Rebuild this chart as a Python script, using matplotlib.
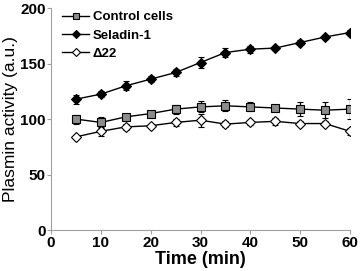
import numpy as np
import matplotlib
matplotlib.use("Agg")
import matplotlib.pyplot as plt

plt.rcParams["font.family"] = ["Liberation Sans", "DejaVu Sans"]
plt.rcParams["font.weight"] = "bold"

time = [5, 10, 15, 20, 25, 30, 35, 40, 45, 50, 55, 60]
control = [100, 97, 102, 105, 109, 111, 112, 111, 110, 109, 108, 109]
control_err = [4, 5, 2, 2, 4, 5, 5, 4, 3, 6, 7, 9]
seladin = [118, 122.5, 130, 136, 142, 151, 160, 163, 164, 169, 174, 178]
seladin_err = [4, 3, 4, 3, 3, 5, 4, 3, 2, 2, 2, 2]
delta22 = [84, 89, 93, 94, 97, 99, 95.5, 97, 98, 96, 96, 89]
delta22_err = [1, 4, 3, 2, 3, 6, 3, 2, 3, 2, 2, 3]

fig = plt.figure(figsize=(3.6, 2.71), dpi=100)
ax = fig.add_axes([0.142, 0.151, 0.830, 0.819])

common = dict(color="black", linewidth=1.0, capsize=2.5, elinewidth=0.9, capthick=0.9,
              markeredgecolor="black", markeredgewidth=0.8, markersize=5.5)
c1 = ax.errorbar(time, control, yerr=control_err, marker="s", markerfacecolor="#8c8c8c",
                 label="Control cells", **common)
c2 = ax.errorbar(time, seladin, yerr=seladin_err, marker="D", markerfacecolor="black",
                 label="Seladin-1", **dict(common, markersize=5))
c3 = ax.errorbar(time, delta22, yerr=delta22_err, marker="D", markerfacecolor="white",
                 label="Δ22", **dict(common, markersize=5))

ax.set_xlim(0, 60)
ax.set_ylim(0, 200)
ax.set_xticks([0, 10, 20, 30, 40, 50, 60])
ax.set_yticks([0, 50, 100, 150, 200])
for side in ["top", "right"]:
    ax.spines[side].set_visible(False)
for side in ["left", "bottom"]:
    ax.spines[side].set_color("#a0a0a0")
    ax.spines[side].set_linewidth(0.8)
ax.tick_params(length=3, width=0.8, color="#a0a0a0", labelsize=11, pad=1)
ax.set_xlabel("Time (min)", fontsize=13, fontweight="bold", labelpad=1)
ax.set_ylabel("Plasmin activity (a.u.)", fontsize=12.5, fontweight="normal")
ax.yaxis.set_label_coords(-0.11, 0.5)

# legend shows plain line + marker, no error bars
handles = [c[0] for c in (c1, c2, c3)]
labels = ["Control cells", "Seladin-1", "Δ22"]
ax.legend(handles, labels, loc="upper left", frameon=False, fontsize=9.5, handlelength=2.0,
          handletextpad=0.3, labelspacing=0.45, borderaxespad=0.0, markerscale=0.75,
          bbox_to_anchor=(0.02, 1.01))

fig.savefig("out.png", dpi=100)
